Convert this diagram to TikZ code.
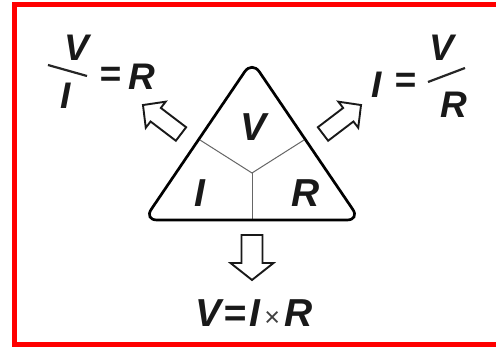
\documentclass[tikz,border=0pt]{standalone}
\usepackage{fontspec}
\setmainfont{Liberation Sans}
\newfontfamily\plainfont{Liberation Sans}
\begin{document}
\begin{tikzpicture}[x=1pt,y=-1pt,
  lbl/.style={font=\fontsize{37}{37}\selectfont\bfseries\itshape, inner sep=0pt, text=black!90},
  trilbl/.style={lbl, font=\fontsize{39}{39}\selectfont\bfseries\itshape},
  tri/.style={line width=2.7pt, rounded corners=13pt, line join=round},
  divider/.style={line width=1pt, draw=black!60},
  arrowline/.style={line width=1.9pt, draw=black!90, fill=white, line join=miter},
  fracbar/.style={line width=2.2pt, draw=black!85},
  frame/.style={line width=5pt, draw={rgb,255:red,255;green,0;blue,0}}]
\newcommand\barrow[7]{%
  \begin{scope}[shift={(#1,#2)},rotate=#3]
    \draw[arrowline] (0,#7) -- ({#4-#5},#7) -- ({#4-#5},#6) -- (#4,0)
      -- ({#4-#5},-#6) -- ({#4-#5},-#7) -- (0,-#7) -- cycle;
  \end{scope}}
\useasboundingbox (0,0) rectangle (496,347);
\clip (0,0) rectangle (496,347);
\fill[white] (0,0) rectangle (496,347);
\draw[frame] (14.5,4.5) rectangle (510,344.5);

% triangle
\coordinate (apex) at (252,61);
\coordinate (bl) at (144,220);
\coordinate (br) at (360,220);
\coordinate (mid) at (252,173);
\coordinate (ml) at (200,140);
\coordinate (mr) at (304,140);
\coordinate (mb) at (252,219);
\draw[divider] (ml) -- (mid) -- (mr);
\draw[divider] (mid) -- (mb);
\draw[tri] (apex) -- (br) -- (bl) -- cycle;

\node[trilbl] (tV) at (254,127) {V};
\node[trilbl] (tI) at (200,193) {I};
\node[trilbl] (tR) at (306,193) {R};

% arrows
\barrow{181}{134}{142.7}{47.8}{16}{16.4}{8.5}
\barrow{323}{134}{37.3}{47.8}{16}{16.4}{8.5}
\barrow{252}{235}{-90}{45}{17}{21.5}{10.5}

% left formula V/I = R
\node[lbl] (lV) at (77,48) {V};
\coordinate (lb1) at (48,65);
\coordinate (lb2) at (87,76);
\draw[fracbar] (lb1) -- (lb2);
\node[lbl] (lI) at (66,96) {I};
\node[lbl] (lEq) at (110,77) {=};
\node[lbl] (lR) at (142,77) {R};

% right formula I = V/R
\node[lbl] (rI) at (377,85) {I};
\node[lbl] (rEq) at (405,83) {=};
\coordinate (rb1) at (428,82);
\coordinate (rb2) at (465,68);
\draw[fracbar] (rb1) -- (rb2);
\node[lbl] (rV) at (442,48) {V};
\node[lbl] (rR) at (454,105) {R};

% bottom formula
\node[lbl, font=\fontsize{39}{39}\selectfont\bfseries\itshape, anchor=base] (bot) at (254,327) {V\kern2pt=\kern3pt I\kern4pt{\plainfont\upshape\mdseries\fontsize{27}{27}\selectfont\textcolor{black!75}{×}}\kern4pt R};
\end{tikzpicture}
\end{document}
